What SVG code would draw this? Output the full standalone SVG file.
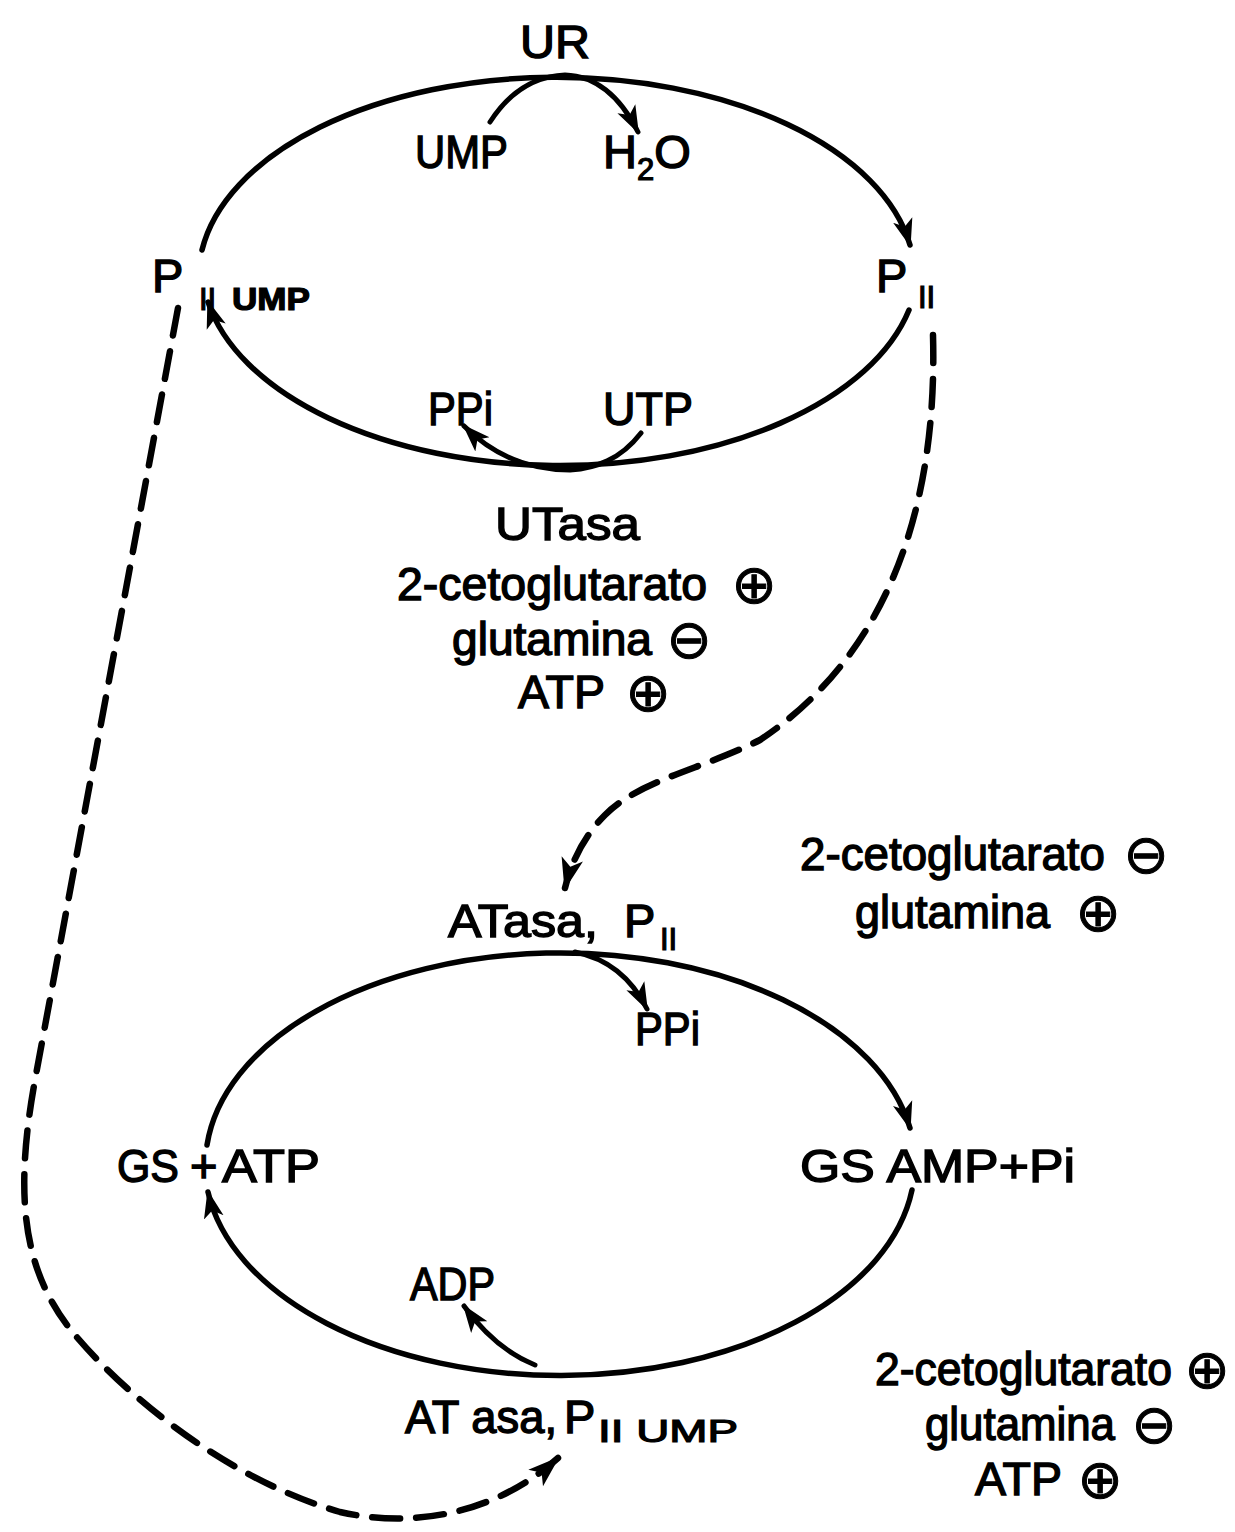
<svg xmlns="http://www.w3.org/2000/svg" width="1235" height="1532" viewBox="0 0 1235 1532">
  <style>
    .t { font-family: "Liberation Sans", Arial, sans-serif; font-size: 47px; fill: #000; stroke: #000; stroke-width: 1.4; }
    .sub { font-family: "Liberation Sans", Arial, sans-serif; font-size: 31px; fill: #000; stroke: #000; stroke-width: 1.2; }
    .sym { font-family: "DejaVu Sans", sans-serif; font-size: 54px; fill: #000; stroke: #000; stroke-width: 1; text-anchor: middle; }
    .cyc { fill: none; stroke: #000; stroke-width: 5.5; stroke-linecap: round; }
    .br { fill: none; stroke: #000; stroke-width: 5; stroke-linecap: round; }
    .dash { fill: none; stroke: #000; stroke-width: 6.5; stroke-dasharray: 28 16; stroke-linecap: round; }
  </style>
  <defs>
    <marker id="ah" markerUnits="userSpaceOnUse" viewBox="0 0 30 22" refX="26" refY="11" markerWidth="30" markerHeight="22" orient="auto">
      <path d="M0,1 L28,11 L0,21 L7,11 Z" fill="#000"/>
    </marker>
    <marker id="ahd" markerUnits="userSpaceOnUse" viewBox="0 0 34 24" refX="30" refY="12" markerWidth="34" markerHeight="24" orient="auto">
      <path d="M0,1 L32,12 L0,23 L8,12 Z" fill="#000"/>
    </marker>
  </defs>

  <!-- connectors -->
  <g id="connectors">
    <!-- upper cycle: PII UMP -> PII via UR -->
    <path class="cyc" d="M 202 250 A 358 200 0 0 1 910 245" marker-end="url(#ah)"/>
    <!-- upper cycle: PII -> PII UMP via UTasa -->
    <path class="cyc" d="M 909 310 A 358 200 0 0 1 208 302" marker-end="url(#ah)"/>
    <!-- UMP in, H2O out -->
    <path class="br" d="M 490 122 C 512 88 538 76 565 75 C 595 76 620 96 638 132" marker-end="url(#ah)"/>
    <!-- UTP in, PPi out -->
    <path class="br" d="M 641 433 C 620 460 596 468 570 470 C 540 470 500 462 464 426" marker-end="url(#ah)"/>

    <!-- lower cycle: GS + ATP -> GS AMP via ATasa, PII -->
    <path class="cyc" d="M 207 1145 A 355 212 0 0 1 910 1128" marker-end="url(#ah)"/>
    <!-- lower cycle: GS AMP -> GS + ATP via ATasa, PII UMP -->
    <path class="cyc" d="M 912 1190 A 355 212 0 0 1 208 1192" marker-end="url(#ah)"/>
    <!-- PPi out -->
    <path class="br" d="M 575 952 C 605 958 630 975 647 1009" marker-end="url(#ah)"/>
    <!-- ADP out -->
    <path class="br" d="M 535 1365 C 510 1355 485 1335 464 1306" marker-end="url(#ah)"/>

    <!-- regulatory links -->
    <path class="dash" d="M 933 335 C 938 520 880 660 760 740 C 700 770 640 780 605 815 C 585 835 572 860 565 888" marker-end="url(#ahd)"/>
    <path class="dash" d="M 178 308 L 35 1080 C 15 1190 20 1270 75 1335 C 130 1400 230 1480 340 1512 C 420 1530 500 1510 558 1458" marker-end="url(#ahd)"/>
  </g>

  <g id="node-UR">
    <text class="t" x="520" y="58" textLength="70" lengthAdjust="spacingAndGlyphs">UR</text>
  </g>
  <g id="node-UMP">
    <text class="t" x="415" y="168" textLength="93" lengthAdjust="spacingAndGlyphs">UMP</text>
  </g>
  <g id="node-H2O">
    <text class="t" x="603" y="168">H<tspan class="sub" dy="12">2</tspan><tspan dy="-12">O</tspan></text>
  </g>
  <g id="node-PII-UMP">
    <text class="t" x="152" y="292">P</text>
    <text class="sub" x="199" y="310">II</text>
    <text class="sub" x="232" y="310" font-weight="bold" textLength="78" lengthAdjust="spacingAndGlyphs">UMP</text>
  </g>
  <g id="node-PII">
    <text class="t" x="876" y="292">P</text>
    <text class="sub" x="918" y="308">II</text>
  </g>
  <g id="node-PPi-top">
    <text class="t" x="428" y="425" textLength="65" lengthAdjust="spacingAndGlyphs">PPi</text>
  </g>
  <g id="node-UTP">
    <text class="t" x="603" y="425" textLength="90" lengthAdjust="spacingAndGlyphs">UTP</text>
  </g>
  <g id="node-UTasa">
    <text class="t" x="495" y="540" textLength="145" lengthAdjust="spacingAndGlyphs">UTasa</text>
    <text class="t" x="397" y="600" textLength="310" lengthAdjust="spacingAndGlyphs">2-cetoglutarato</text>
    <text class="sym" x="754" y="603">⊕</text>
    <text class="t" x="452" y="655" textLength="200" lengthAdjust="spacingAndGlyphs">glutamina</text>
    <text class="sym" x="689" y="658">⊖</text>
    <text class="t" x="518" y="708" textLength="87" lengthAdjust="spacingAndGlyphs">ATP</text>
    <text class="sym" x="648" y="711">⊕</text>
  </g>

  <g id="node-ATasa-PII">
    <text class="t" x="448" y="937" textLength="150" lengthAdjust="spacingAndGlyphs">ATasa,</text>
    <text class="t" x="624" y="937">P</text>
    <text class="sub" x="660" y="950">II</text>
  </g>
  <g id="effectors-ATasa-PII">
    <text class="t" x="800" y="870" textLength="305" lengthAdjust="spacingAndGlyphs">2-cetoglutarato</text>
    <text class="sym" x="1146" y="873">⊖</text>
    <text class="t" x="855" y="928" textLength="195" lengthAdjust="spacingAndGlyphs">glutamina</text>
    <text class="sym" x="1098" y="931">⊕</text>
  </g>
  <g id="node-PPi-bottom">
    <text class="t" x="635" y="1045" textLength="65" lengthAdjust="spacingAndGlyphs">PPi</text>
  </g>
  <g id="node-GS-ATP">
    <text class="t" x="117" y="1182" textLength="62" lengthAdjust="spacingAndGlyphs">GS</text>
    <text class="t" x="190" y="1182">+</text>
    <text class="t" x="222" y="1182" textLength="98" lengthAdjust="spacingAndGlyphs">ATP</text>
  </g>
  <g id="node-GS-AMP">
    <text class="t" x="800" y="1182" textLength="275" lengthAdjust="spacingAndGlyphs">GS AMP+Pi</text>
  </g>
  <g id="node-ADP">
    <text class="t" x="410" y="1300" textLength="85" lengthAdjust="spacingAndGlyphs">ADP</text>
  </g>
  <g id="node-ATasa-PII-UMP">
    <text class="t" x="405" y="1433" textLength="152" lengthAdjust="spacingAndGlyphs">AT asa,</text>
    <text class="t" x="564" y="1433">P</text>
    <text class="sub" x="598" y="1442" textLength="140" lengthAdjust="spacingAndGlyphs">II UMP</text>
  </g>
  <g id="effectors-ATasa-PII-UMP">
    <text class="t" x="875" y="1385" textLength="297" lengthAdjust="spacingAndGlyphs">2-cetoglutarato</text>
    <text class="sym" x="1207" y="1388">⊕</text>
    <text class="t" x="925" y="1440" textLength="190" lengthAdjust="spacingAndGlyphs">glutamina</text>
    <text class="sym" x="1154" y="1443">⊖</text>
    <text class="t" x="975" y="1495" textLength="87" lengthAdjust="spacingAndGlyphs">ATP</text>
    <text class="sym" x="1100" y="1498">⊕</text>
  </g>
</svg>
